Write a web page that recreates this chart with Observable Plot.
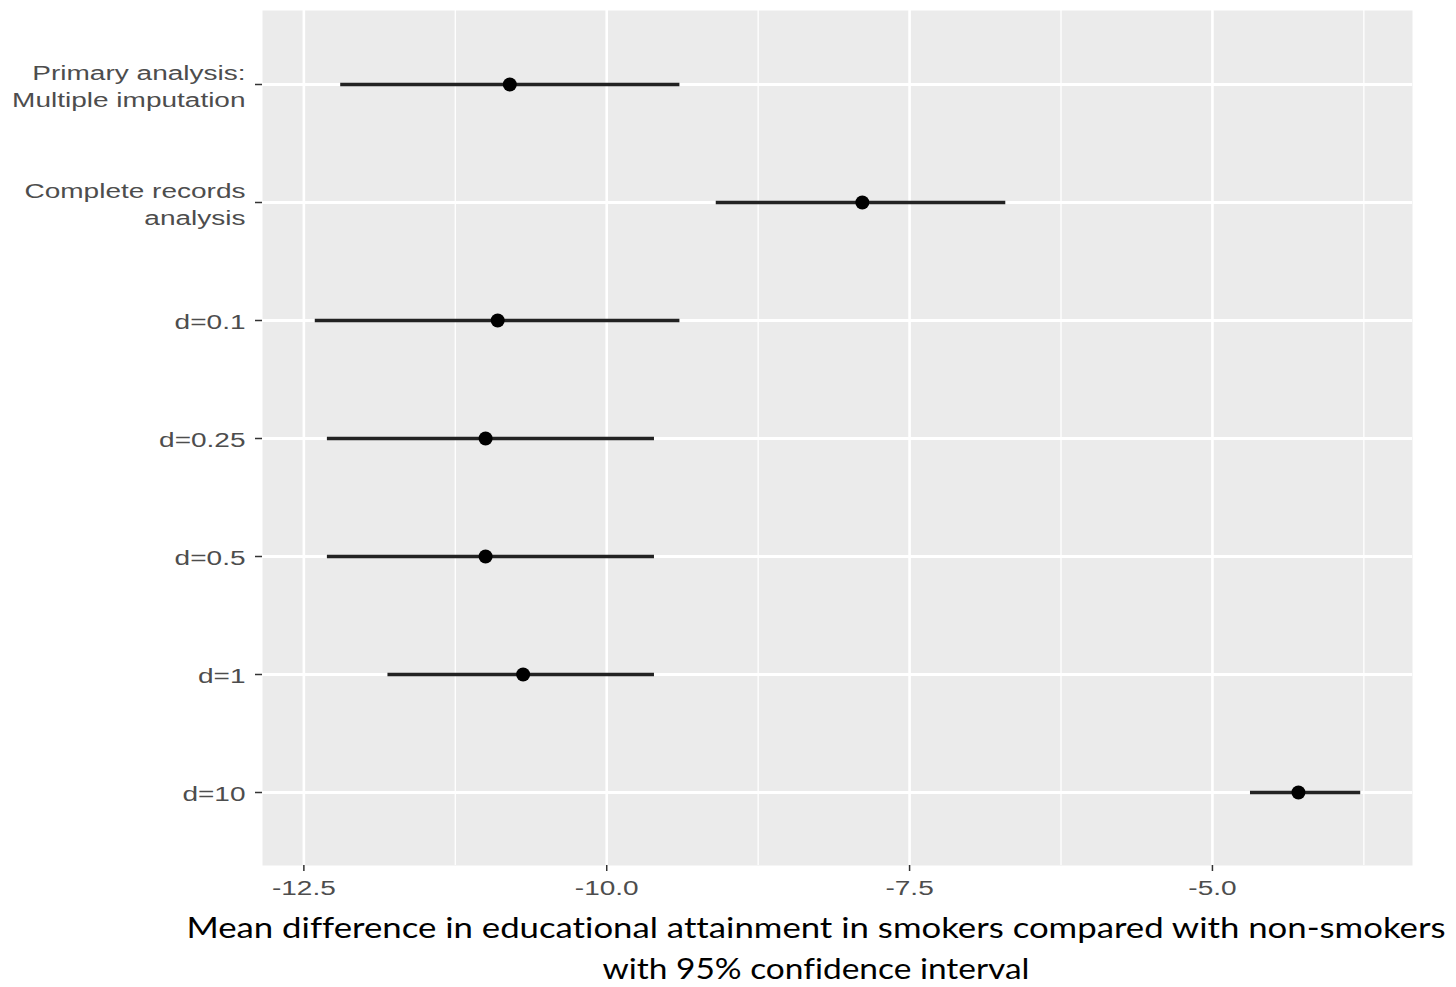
<!DOCTYPE html>
<html><head><meta charset="utf-8">
<script src="https://cdn.jsdelivr.net/npm/d3@7"></script>
<script src="https://cdn.jsdelivr.net/npm/@observablehq/plot@0.6"></script>
<style>
body{margin:0;background:#fff;}
#chart{position:relative;width:1456px;height:987px;}
</style>
</head><body><div id="chart"></div>
<script>
const analyses = ["Primary analysis:\nMultiple imputation", "Complete records\nanalysis", "d=0.1", "d=0.25", "d=0.5", "d=1", "d=10"];
const estimates = [-10.80, -7.89, -10.90, -11.00, -11.00, -10.69, -4.29];
const lowerCI   = [-12.20, -9.10, -12.41, -12.31, -12.31, -11.81, -4.69];
const upperCI   = [-9.40, -6.71, -9.40, -9.61, -9.61, -9.61, -3.78];
const xTicks = [-12.5, -10, -7.5, -5];
const xMinor = [-11.25, -8.75, -6.25, -3.75];
const captionLines = ["Mean difference in educational attainment in smokers compared with non-smokers", "with 95% confidence interval"];

const rows = analyses.map((a, i) => ({analysis: a, est: estimates[i], lo: lowerCI[i], hi: upperCI[i]}));
const lo = d3.min(lowerCI), hi = d3.max(upperCI), pad = (hi - lo) * 0.05;
const fmt = d => d3.format(".1f")(d).replace("\u2212", "-");

const plot = Plot.plot({
  width: 1456, height: 987,
  marginLeft: 262, marginRight: 44, marginTop: 10, marginBottom: 122,
  x: {domain: [lo - pad, hi + pad]},
  y: {type: "point", domain: analyses, padding: 0.6},
  style: {fontFamily: "'Liberation Sans', Arial, sans-serif", background: "white"},
  marks: [
    Plot.frame({fill: "#EBEBEB", stroke: null}),
    Plot.ruleX(xMinor, {stroke: "white", strokeWidth: 1.3}),
    Plot.ruleX(xTicks, {stroke: "white", strokeWidth: 2.6}),
    Plot.ruleY(analyses, {stroke: "white", strokeWidth: 2.8}),
    Plot.link(rows, {x1: "lo", x2: "hi", y1: "analysis", y2: "analysis", stroke: "#222", strokeWidth: 3.5}),
    Plot.dot(rows, {x: "est", y: "analysis", r: 7, fill: "black", stroke: null}),
    Plot.axisX({ticks: xTicks, tickFormat: fmt, tickSize: 6, tickPadding: 9, fontSize: 20, fill: "#4D4D4D", stroke: "#333", strokeWidth: 1.5, label: null}),
    Plot.axisY({tickSize: 7, tickPadding: 10, fontSize: 20, lineHeight: 1.35, fill: "#4D4D4D", stroke: "#333", strokeWidth: 1.5, label: null})
  ]
});
const chart = document.getElementById("chart");
chart.appendChild(plot);

// horizontal stretch of tick labels to match the reference
plot.querySelectorAll('g[aria-label$="tick label"] text').forEach(t => {
  const spans = t.querySelectorAll("tspan");
  const els = spans.length ? Array.from(spans) : [t];
  els.forEach(e => {
    const L = e.getComputedTextLength();
    e.setAttribute("textLength", (L * 1.4).toFixed(1));
    e.setAttribute("lengthAdjust", "spacingAndGlyphs");
  });
});

// caption (x-axis title) below the plot
const capG = d3.select(plot).append("g")
  .attr("font-family", "Lato, 'Liberation Sans', sans-serif")
  .attr("font-size", 28)
  .attr("fill", "#000")
  .attr("text-anchor", "middle")
  .style("font-variant-ligatures", "none")
  .style("font-feature-settings", "'liga' 0, 'clig' 0");
const capW = [1259, 427];
const capY = [938, 979];
captionLines.forEach((s, i) => {
  capG.append("text")
    .attr("x", 816).attr("y", capY[i])
    .attr("textLength", capW[i]).attr("lengthAdjust", "spacingAndGlyphs")
    .text(s);
});
</script>
</body></html>
